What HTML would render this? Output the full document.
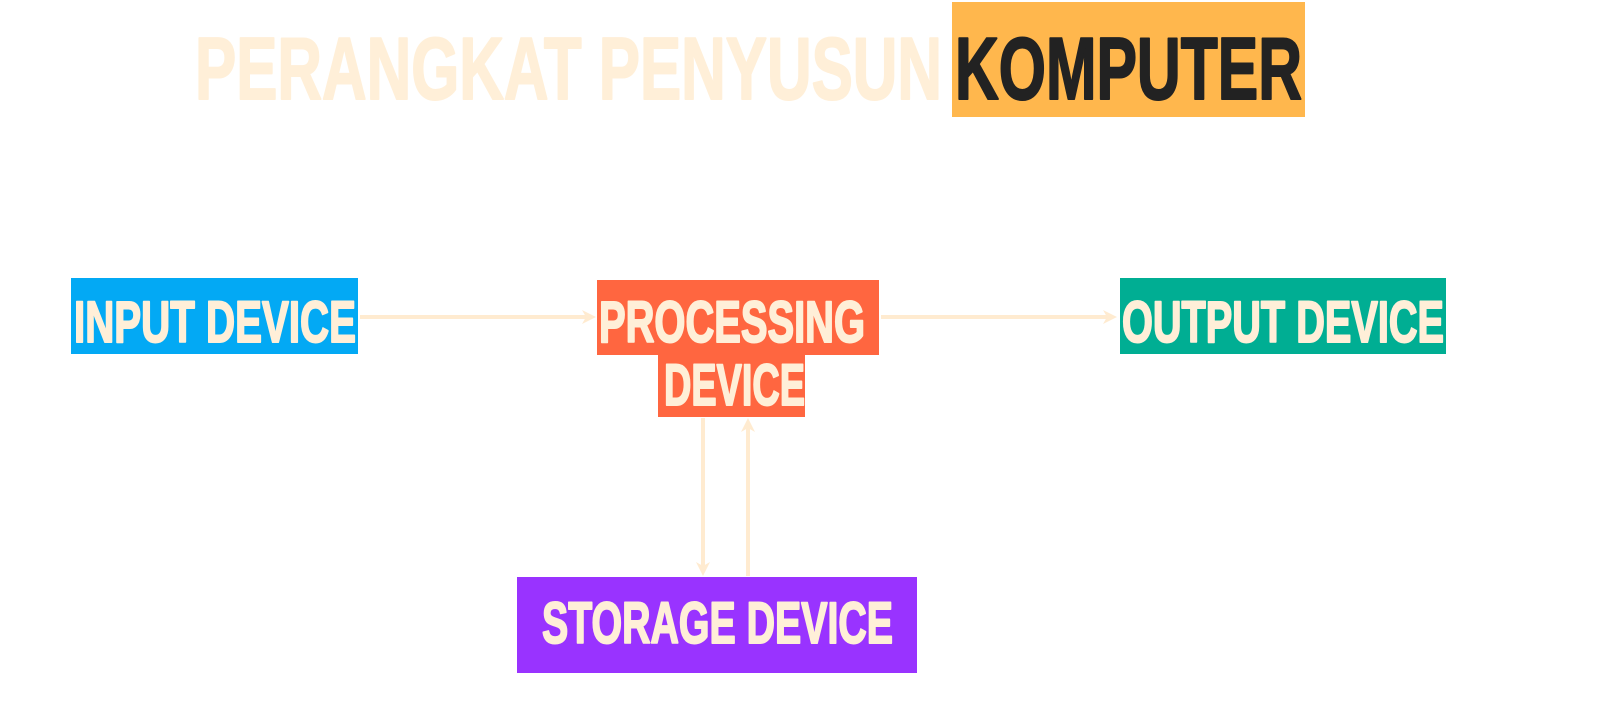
<!DOCTYPE html>
<html><head><meta charset="utf-8"><style>
html,body{margin:0;padding:0;background:#fff;width:1600px;height:702px;overflow:hidden}
text{font-family:"Liberation Sans",sans-serif;font-weight:bold;stroke-width:2;stroke-linejoin:round}
</style></head><body>
<svg width="1600" height="702" viewBox="0 0 1600 702" xmlns="http://www.w3.org/2000/svg">
<rect x="952" y="2" width="353" height="115" fill="#FFB74D"/>
<text x="195" y="99" font-size="88" fill="#FFEFD8" stroke="#FFEFD8" textLength="747" lengthAdjust="spacingAndGlyphs">PERANGKAT PENYUSUN</text>
<text x="955" y="99" font-size="88" fill="#222" stroke="#222" textLength="347" lengthAdjust="spacingAndGlyphs">KOMPUTER</text>

<rect x="71" y="278" width="287" height="76" fill="#03A9F4"/>
<text x="74" y="342" font-size="58" fill="#FFEFD8" stroke="#FFEFD8" textLength="282" lengthAdjust="spacingAndGlyphs">INPUT DEVICE</text>

<rect x="597" y="280" width="282" height="75" fill="#FF6640"/>
<rect x="658" y="354" width="147" height="63" fill="#FF6640"/>
<text x="599" y="342" font-size="58" fill="#FFEFD8" stroke="#FFEFD8" textLength="266" lengthAdjust="spacingAndGlyphs">PROCESSING</text>
<text x="664" y="405" font-size="58" fill="#FFEFD8" stroke="#FFEFD8" textLength="141" lengthAdjust="spacingAndGlyphs">DEVICE</text>

<rect x="1120" y="278" width="326" height="76" fill="#00AE93"/>
<text x="1122" y="342" font-size="58" fill="#FFEFD8" stroke="#FFEFD8" textLength="322" lengthAdjust="spacingAndGlyphs">OUTPUT DEVICE</text>

<rect x="517" y="577" width="400" height="96" fill="#9933FF"/>
<text x="542" y="643" font-size="58" fill="#FFEFD8" stroke="#FFEFD8" textLength="351" lengthAdjust="spacingAndGlyphs">STORAGE DEVICE</text>

<g stroke="#FFEBD0" stroke-width="4" fill="none">
<line x1="360" y1="317" x2="590" y2="317"/>
<line x1="881" y1="317" x2="1112" y2="317"/>
<line x1="703" y1="418" x2="703" y2="570"/>
<line x1="748" y1="576" x2="748" y2="425"/>
</g>
<g fill="#FFEBD0">
<polygon points="582,310 596,317 582,324 586,317"/>
<polygon points="1103,310 1117,317 1103,324 1107,317"/>
<polygon points="696,562 703,576 710,562 703,566"/>
<polygon points="741,432 748,418 755,432 748,428"/>
</g>
</svg>
</body></html>
